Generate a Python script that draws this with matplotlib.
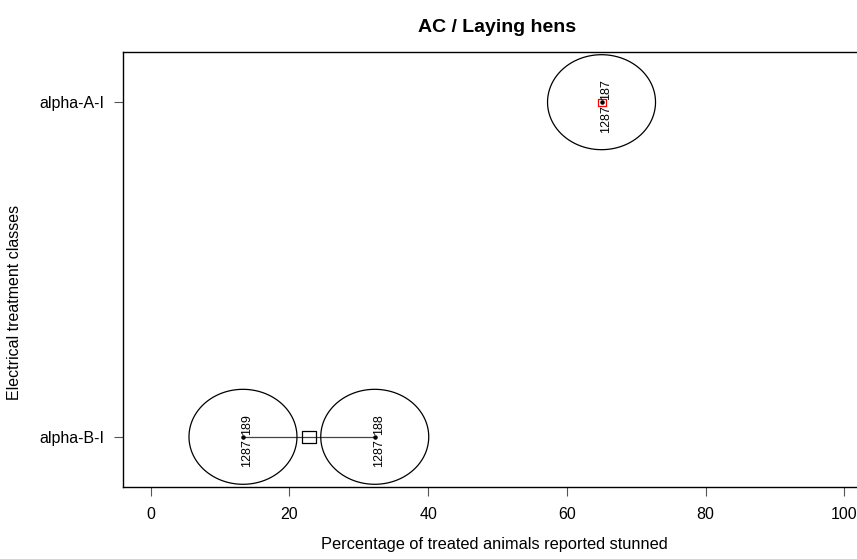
import numpy as np
import matplotlib
matplotlib.use("Agg")
import matplotlib.pyplot as plt
from matplotlib.path import Path

plt.rcParams['font.family'] = ['Liberation Sans', 'DejaVu Sans']

# 数据
classes = ['alpha-B-I', 'alpha-A-I']
study_x = [13.3, 32.3, 65.0]
study_class = ['alpha-B-I', 'alpha-B-I', 'alpha-A-I']
study_id = ['189', '188', '187']
study_n = [1287, 1287, 1287]
mean_x = [22.8, 65.0]
mean_color = ['black', 'red']
x_ticks = [0, 20, 40, 60, 80, 100]

W, H = 857, 559
fig = plt.figure(figsize=(W / 100, H / 100), dpi=100, facecolor="white")
ax = fig.add_axes([123 / W, 72 / H, (872 - 123) / W, (487 - 52) / H])
ax.set_xlim(-4, 104)
ax.set_ylim(0.85, 2.15)

ypos = {c: i + 1 for i, c in enumerate(classes)}
sy = [ypos[c] for c in study_class]

# 椭圆形的圆圈（图片被横向拉伸）
t = np.linspace(0, 2 * np.pi, 100)
ell = Path(np.column_stack([1.137 * np.cos(t), np.sin(t)]), closed=True)
box = Path([(-1.137, -1), (1.137, -1), (1.137, 1), (-1.137, 1), (-1.137, -1)], closed=True)

# 同一类别的研究之间连线
for c in classes:
    xs = [x for x, cc in zip(study_x, study_class) if cc == c]
    if len(xs) > 1:
        ax.plot([min(xs), max(xs)], [ypos[c], ypos[c]], color='#444444', lw=0.9, zorder=1)

ax.scatter(study_x, sy, s=(108 * 0.72) ** 2, marker=ell, facecolors='none',
           edgecolors='black', linewidths=0.9, zorder=2)
ax.scatter(study_x, sy, s=5, color='black', zorder=4)

# 平均值方块
msize = [(14 * 0.72) ** 2, (8 * 0.72) ** 2]
for i, c in enumerate(classes):
    ax.scatter([mean_x[i]], [ypos[c]], s=msize[i], marker=box, facecolors='none',
               edgecolors=mean_color[i], linewidths=0.9, zorder=3)

# 研究编号和样本量
for x, y, sid, n in zip(study_x, sy, study_id, study_n):
    ax.annotate(sid, (x, y), xytext=(3, 1.6), textcoords='offset points', rotation=90,
                ha='center', va='bottom', fontsize=9)
    ax.annotate(str(n), (x, y), xytext=(3.3, -2), textcoords='offset points', rotation=90,
                ha='center', va='top', fontsize=9)

ax.set_xticks(x_ticks)
ax.set_xticklabels([str(v) for v in x_ticks])
ax.set_yticks([ypos[c] for c in classes])
ax.set_yticklabels(classes)
ax.tick_params(axis='both', length=6.5, width=0.8, color='#555555', labelsize=11.5)
ax.tick_params(axis='x', pad=8)
ax.tick_params(axis='y', pad=7)
for s in ax.spines.values():
    s.set_linewidth(1.0)

fig.text(497 / W, 1 - 28 / H, 'AC / Laying hens', ha='center', va='center',
         fontsize=14, fontweight='bold')
fig.text(494 / W, 1 - 545 / H, 'Percentage of treated animals reported stunned',
         ha='center', va='center', fontsize=11.8)
fig.text(15 / W, 1 - 302 / H, 'Electrical treatment classes', ha='center', va='center',
         rotation=90, fontsize=11.5)

fig.savefig("out.png", dpi=100, facecolor="white")
